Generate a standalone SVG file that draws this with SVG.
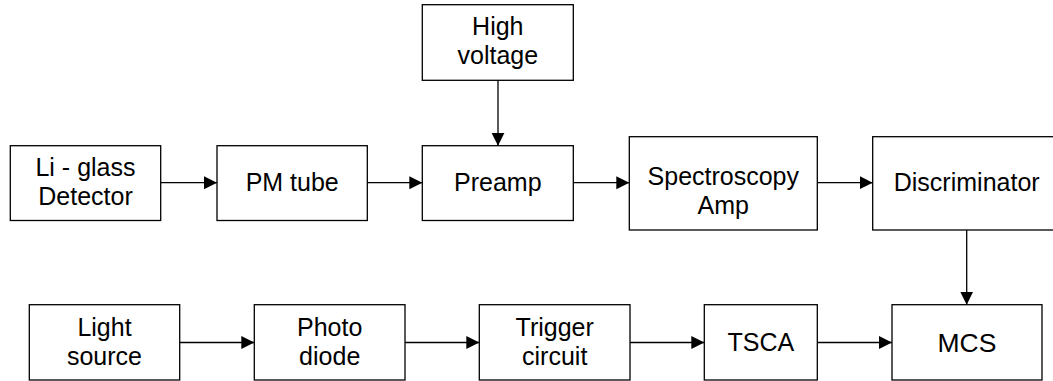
<svg xmlns="http://www.w3.org/2000/svg" width="1053" height="381" viewBox="0 0 1053 381">
<style>
.box{fill:#fff;stroke:#000;stroke-width:1.3}
.t{font-family:"Liberation Sans",Arial,sans-serif;font-size:25px;text-anchor:middle;fill:#000}
.big{font-size:26.5px}
.c{fill:none;stroke:#000;stroke-width:1.3;marker-end:url(#ah)}
</style>
<defs>
<marker id="ah" markerUnits="userSpaceOnUse" markerWidth="14" markerHeight="14" refX="13" refY="6.5" orient="auto">
<path d="M0,0 L13,6.5 L0,13 Z" fill="#000"/>
</marker>
</defs>
<rect width="1053" height="381" fill="#fff"/>
<g id="connectors">
<line class="c" x1="160.7" y1="182.7" x2="217" y2="182.7"/>
<line class="c" x1="367.3" y1="182.7" x2="422.3" y2="182.7"/>
<line class="c" x1="573.3" y1="182.7" x2="629.3" y2="182.7"/>
<line class="c" x1="817.3" y1="182.7" x2="872.7" y2="182.7"/>
<line class="c" x1="498" y1="80.3" x2="498" y2="145.7"/>
<line class="c" x1="966.7" y1="230" x2="966.7" y2="304.7"/>
<line class="c" x1="179.7" y1="342.5" x2="254.3" y2="342.5"/>
<line class="c" x1="405" y1="342.5" x2="479.3" y2="342.5"/>
<line class="c" x1="630" y1="342.5" x2="704.3" y2="342.5"/>
<line class="c" x1="817.3" y1="342.5" x2="892" y2="342.5"/>
</g>
<g id="li-glass">
<rect class="box" x="10.3" y="145.7" width="150.4" height="74.8"/>
<text class="t" x="85.5" y="175.7">Li - glass</text>
<text class="t" x="85.5" y="205">Detector</text>
</g>
<g id="pm-tube">
<rect class="box" x="217" y="145.7" width="150.3" height="74.8"/>
<text class="t" x="292.2" y="190.7">PM tube</text>
</g>
<g id="high-voltage">
<rect class="box" x="422.3" y="4.7" width="151" height="75.6"/>
<text class="t" x="497.8" y="35">High</text>
<text class="t" x="497.8" y="64">voltage</text>
</g>
<g id="preamp">
<rect class="box" x="422.3" y="145.7" width="151" height="74.8"/>
<text class="t" x="497.8" y="190.5">Preamp</text>
</g>
<g id="spectroscopy-amp">
<rect class="box" x="629.3" y="136.7" width="188" height="93.3"/>
<text class="t" x="723.3" y="185">Spectroscopy</text>
<text class="t" x="723.3" y="213.5">Amp</text>
</g>
<g id="discriminator">
<rect class="box" x="872.7" y="136.7" width="188" height="93.3"/>
<text class="t" x="966.7" y="190.5">Discriminator</text>
</g>
<g id="light-source">
<rect class="box" x="29.3" y="304.7" width="150.4" height="75.3"/>
<text class="t" x="104.5" y="335.7">Light</text>
<text class="t" x="104.5" y="365">source</text>
</g>
<g id="photo-diode">
<rect class="box" x="254.3" y="304.7" width="150.7" height="75.3"/>
<text class="t" x="329.7" y="335.7">Photo</text>
<text class="t" x="329.7" y="365">diode</text>
</g>
<g id="trigger-circuit">
<rect class="box" x="479.3" y="304.7" width="150.7" height="75.3"/>
<text class="t" x="554.7" y="335.7">Trigger</text>
<text class="t" x="554.7" y="365">circuit</text>
</g>
<g id="tsca">
<rect class="box" x="704.3" y="304.7" width="113" height="75.3"/>
<text class="t" x="760.8" y="350.5">TSCA</text>
</g>
<g id="mcs">
<rect class="box" x="892" y="304.7" width="150" height="75.3"/>
<text class="t big" x="967" y="352">MCS</text>
</g>
</svg>
